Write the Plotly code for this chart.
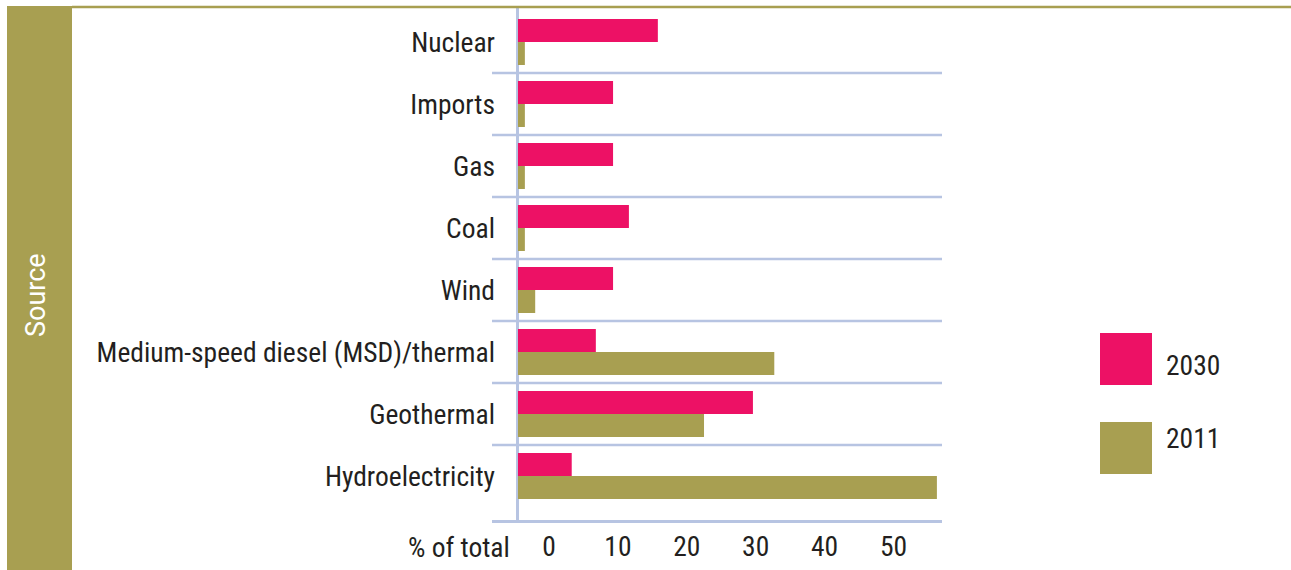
import plotly.graph_objects as go

# data (% of total generation)
sources = [
    "Nuclear",
    "Imports",
    "Gas",
    "Coal",
    "Wind",
    "Medium-speed diesel (MSD)/thermal",
    "Geothermal",
    "Hydroelectricity",
]
share_2030 = [20.3, 13.8, 13.8, 16.1, 13.8, 11.3, 34.1, 7.8]
share_2011 = [1.0, 1.0, 1.0, 1.0, 2.5, 37.2, 27.0, 60.8]
years = ["2030", "2011"]
x_ticks = [0, 10, 20, 30, 40, 50]

PINK = "#ED1165"
OLIVE = "#A89F51"
GRID = "#B7C4E2"
TEXT = "#231F20"
FONT = "Liberation Sans Narrow, Roboto Condensed, Arial Narrow, sans-serif"
FS = 27.5

W, H = 1291, 570
L, R, T, B = 492, 942, 7, 520  # plot area in pixels


def px(x):
    return (x - L) / (R - L)


def py(y):
    return (B - y) / (B - T)


fig = go.Figure()
for name, vals, col in [(years[0], share_2030, PINK), (years[1], share_2011, OLIVE)]:
    fig.add_trace(
        go.Bar(
            y=sources,
            x=vals,
            orientation="h",
            name=name,
            marker=dict(color=col, line=dict(width=0)),
            showlegend=False,
            hovertemplate="%{y}: %{x}%<extra>" + name + "</extra>",
        )
    )

# separators between categories
for i in range(len(sources) - 1):
    fig.add_shape(
        type="line", xref="paper", yref="y", x0=0, x1=1, y0=i + 0.5, y1=i + 0.5,
        line=dict(color=GRID, width=2.5), layer="below",
    )

# olive side band and top rule
fig.add_shape(type="rect", xref="paper", yref="paper", x0=px(7), x1=px(72), y0=py(H + 5), y1=py(6),
              fillcolor=OLIVE, line=dict(width=0))
fig.add_shape(type="line", xref="paper", yref="paper", x0=px(72), x1=px(W + 5), y0=py(7), y1=py(7),
              line=dict(color=OLIVE, width=2.5))

# legend squares
for (y0, y1), col in zip([(333, 385), (422, 474)], [PINK, OLIVE]):
    fig.add_shape(type="rect", xref="paper", yref="paper", x0=px(1100), x1=px(1152), y0=py(y1), y1=py(y0),
                  fillcolor=col, line=dict(width=0))

annotations = [
    dict(text="Source", x=px(36), y=py(295), xanchor="center", textangle=-90,
         font=dict(size=27, color="white", family="Roboto, Arial, sans-serif")),
    dict(text="% of total", x=px(512), y=py(547), xanchor="right"),
    dict(text=years[0], x=px(1164), y=py(365), xanchor="left"),
    dict(text=years[1], x=px(1164), y=py(438), xanchor="left"),
]
for a in annotations:
    a.setdefault("xref", "paper")
    a.setdefault("yref", "paper")
    a.setdefault("showarrow", False)
    a.setdefault("yanchor", "middle")
    a.setdefault("font", dict(size=FS, color=TEXT, family=FONT))
    fig.add_annotation(**a)

fig.update_layout(
    width=W,
    height=H,
    autosize=False,
    margin=dict(l=L, r=W - R, t=T, b=H - B, pad=0),
    paper_bgcolor="white",
    plot_bgcolor="white",
    barmode="group",
    bargap=0.258,
    bargroupgap=0,
    font=dict(family=FONT, size=FS, color=TEXT),
    xaxis=dict(
        range=[-3.77, 61.54],
        tickvals=x_ticks,
        ticks="",
        ticklabelshift=31,
        showgrid=False,
        zeroline=True,
        zerolinecolor=GRID,
        zerolinewidth=3,
        showline=True,
        linecolor=GRID,
        linewidth=2.5,
        automargin=False,
        fixedrange=True,
    ),
    yaxis=dict(
        type="category",
        categoryorder="array",
        categoryarray=sources,
        range=[7.71, -0.565],
        ticks="",
        ticklabelstandoff=-4,
        showgrid=False,
        zeroline=False,
        showline=False,
        automargin=False,
        fixedrange=True,
    ),
)

# drop the default 8px page margin so the figure sits at the window origin
fig.write_html(
    "out.html",
    config={"displayModeBar": False},
    post_script="document.body.style.margin='0';",
)
